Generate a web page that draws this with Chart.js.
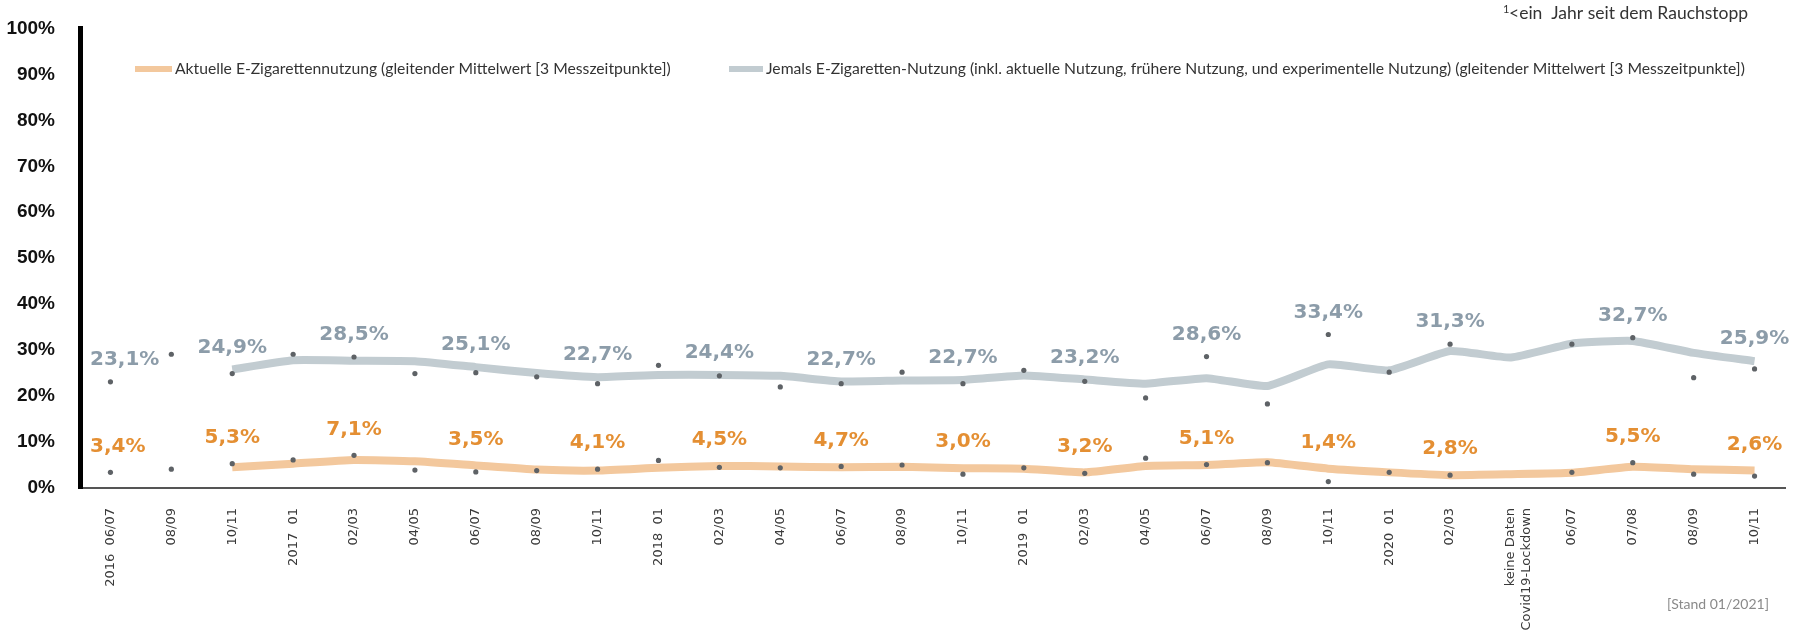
<!DOCTYPE html>
<html lang="de">
<head>
<meta charset="utf-8">
<title>E-Zigarettennutzung</title>
<script src="https://cdn.jsdelivr.net/npm/chart.js@4.4.1/dist/chart.umd.min.js"></script>
<style>
  html, body { margin: 0; padding: 0; background: #fff; }
  #contenedor { position: relative; width: 1797px; height: 637px; }
</style>
</head>
<body>
<div id="contenedor"><canvas id="grafico"></canvas></div>
<script>
// categorías del eje x (momentos de medición)
const categorias = [
  '2016  06/07', '08/09', '10/11', '2017  01', '02/03', '04/05', '06/07', '08/09', '10/11',
  '2018  01', '02/03', '04/05', '06/07', '08/09', '10/11',
  '2019  01', '02/03', '04/05', '06/07', '08/09', '10/11',
  '2020  01', '02/03', ['keine Daten', 'Covid19-Lockdown'], '06/07', '07/08', '08/09', '10/11'
];

// valores medidos (puntos) y medias móviles (líneas), en %
const jemalsWerte = [23.1, 29.1, 24.9, 29.1, 28.5, 24.9, 25.1, 24.2, 22.7, 26.7, 24.4, 22.0, 22.7, 25.2,
  22.7, 25.6, 23.2, 19.6, 28.6, 18.3, 33.4, 25.2, 31.3, null, 31.3, 32.7, 24.0, 25.9];
const jemalsMittel = [null, null, 25.8, 27.8, 27.7, 27.6, 26.3, 25.0, 24.1, 24.6, 24.6, 24.4, 23.2, 23.4,
  23.5, 24.5, 23.6, 22.7, 23.9, 22.2, 26.9, 25.6, 29.8, 28.4, 31.4, 32.0, 29.4, 27.6];
const aktuellWerte = [3.4, 4.1, 5.3, 6.1, 7.1, 3.9, 3.5, 3.8, 4.1, 6.0, 4.5, 4.4, 4.7, 5.0,
  3.0, 4.4, 3.2, 6.5, 5.1, 5.5, 1.4, 3.4, 2.8, null, 3.4, 5.5, 3.0, 2.6];
const aktuellMittel = [null, null, 4.5, 5.3, 6.1, 5.8, 4.9, 4.0, 3.8, 4.4, 4.8, 4.7, 4.5, 4.6,
  4.3, 4.2, 3.4, 4.8, 5.0, 5.6, 4.2, 3.4, 2.8, 3.0, 3.3, 4.6, 4.1, 3.8];

// índices con etiqueta de valor
const beschriftet = [0, 2, 4, 6, 8, 10, 12, 14, 16, 18, 20, 22, 25, 27];

// marcas del eje y
const ticksY = [0, 10, 20, 30, 40, 50, 60, 70, 80, 90, 100];

const textoAktuell = 'Aktuelle E-Zigarettennutzung (gleitender Mittelwert [3 Messzeitpunkte])';
const textoJemals = 'Jemals E-Zigaretten-Nutzung (inkl. aktuelle Nutzung, frühere Nutzung, und experimentelle Nutzung) (gleitender Mittelwert [3 Messzeitpunkte])';

const colorNaranja = '#f3c89d';
const colorGris = '#c2ccd1';
const colorTextoNaranja = '#e48f33';
const colorTextoGris = '#8c9ca9';

// plugin para etiquetas, leyenda y notas
const pluginExtras = {
  id: 'extras',
  afterDatasetsDraw(chart) {
    const ctx = chart.ctx;
    const y = chart.scales.y;
    const x = chart.scales.x;
    ctx.save();
    ctx.font = 'bold 20px "DejaVu Sans"';
    ctx.textAlign = 'center';
    ctx.textBaseline = 'middle';
    const series = [
      [jemalsWerte, jemalsMittel, colorTextoGris, 22],
      [aktuellWerte, aktuellMittel, colorTextoNaranja, 26]
    ];
    series.forEach(([werte, mittel, color, abstand]) => {
      ctx.fillStyle = color;
      beschriftet.forEach(i => {
        const texto = werte[i].toFixed(1).replace('.', ',') + '%';
        const py = y.getPixelForValue(werte[i]);
        const pm = mittel[i] != null ? y.getPixelForValue(mittel[i]) : py;
        // no pisar el eje izquierdo
        const ancho = ctx.measureText(texto).width;
        const px = Math.max(x.getPixelForValue(i), chart.chartArea.left + 10 + ancho / 2);
        ctx.fillText(texto, px, Math.min(py, pm) - abstand);
      });
    });
    ctx.restore();
  },
  afterDraw(chart) {
    const ctx = chart.ctx;
    ctx.save();
    // leyenda dentro del área
    ctx.lineWidth = 6;
    ctx.font = '15.7px Lato';
    ctx.textBaseline = 'middle';
    ctx.fillStyle = '#333';
    ctx.strokeStyle = colorNaranja;
    ctx.beginPath(); ctx.moveTo(135, 69); ctx.lineTo(172, 69); ctx.stroke();
    ctx.fillText(textoAktuell, 175, 69);
    ctx.strokeStyle = colorGris;
    ctx.beginPath(); ctx.moveTo(729, 69); ctx.lineTo(763, 69); ctx.stroke();
    ctx.fillText(textoJemals, 766, 69);
    // notas
    ctx.fillStyle = '#333';
    ctx.font = '11px Lato';
    ctx.fillText('1', 1503, 9);
    ctx.font = '17.5px Lato';
    ctx.fillText('<ein  Jahr seit dem Rauchstopp', 1509, 13);
    ctx.font = '14px Lato';
    ctx.fillStyle = '#8a8a8a';
    ctx.fillText('[Stand 01/2021]', 1667, 604);
    ctx.restore();
  }
};

new Chart(document.getElementById('grafico'), {
  type: 'line',
  data: {
    labels: categorias,
    datasets: [
      {
        label: 'Jemals (Messwert)',
        data: jemalsWerte,
        showLine: false,
        pointRadius: 2.6,
        pointBackgroundColor: '#5e6266',
        pointBorderWidth: 0
      },
      {
        label: 'Aktuell (Messwert)',
        data: aktuellWerte,
        showLine: false,
        pointRadius: 2.6,
        pointBackgroundColor: '#5e6266',
        pointBorderWidth: 0
      },
      {
        label: textoJemals,
        data: jemalsMittel,
        borderColor: colorGris,
        borderWidth: 8,
        pointRadius: 0,
        tension: 0.15
      },
      {
        label: textoAktuell,
        data: aktuellMittel,
        borderColor: colorNaranja,
        borderWidth: 8,
        pointRadius: 0,
        tension: 0.15
      }
    ]
  },
  options: {
    responsive: true,
    maintainAspectRatio: false,
    animation: false,
    layout: { padding: { left: 0, right: 12, top: 22, bottom: 0 } },
    plugins: {
      legend: { display: false },
      tooltip: { enabled: false }
    },
    scales: {
      x: {
        offset: true,
        grid: { display: false },
        border: { display: true, color: '#555', width: 2 },
        ticks: {
          autoSkip: false,
          minRotation: 90,
          maxRotation: 90,
          padding: 12,
          color: '#3a3a3a',
          font: { family: 'DejaVu Sans', size: 13 }
        },
        afterFit(scale) { scale.height = 149; }
      },
      y: {
        min: 0,
        max: 100,
        afterBuildTicks(scale) { scale.ticks = ticksY.map(v => ({ value: v })); },
        grid: { display: false },
        border: { display: true, color: '#000', width: 5 },
        ticks: {
          padding: 17,
          color: '#111',
          font: { family: 'Liberation Sans', size: 19, weight: 'bold' },
          callback: v => v + '%'
        },
        afterFit(scale) { scale.width = 80; }
      }
    }
  },
  plugins: [pluginExtras]
});
</script>
</body>
</html>
